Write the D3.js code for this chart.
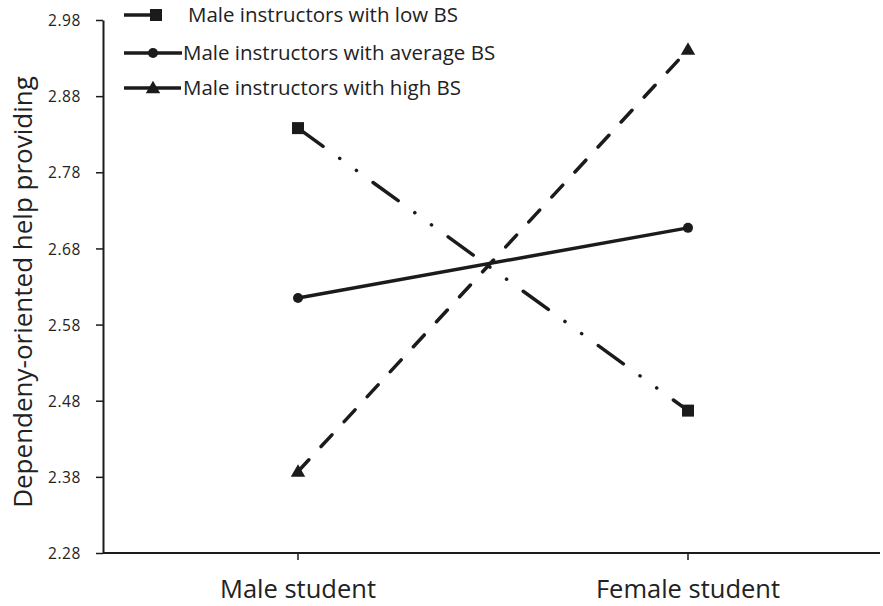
<!DOCTYPE html>
<html>
<head>
<meta charset="utf-8">
<script src="https://cdn.jsdelivr.net/npm/d3@7"></script>
<style>
  body { margin: 0; background: #fff; }
  svg { display: block; }
  text { fill: #222; }
</style>
</head>
<body>
<div id="chart"></div>
<script>
// chart data
var groups = ['Male student', 'Female student'];
var seriesNames = ['Male instructors with low BS', 'Male instructors with average BS', 'Male instructors with high BS'];
var lowBS = [2.838, 2.467];
var avgBS = [2.615, 2.707];
var highBS = [2.387, 2.941];
var yTicks = [2.28, 2.38, 2.48, 2.58, 2.68, 2.78, 2.88, 2.98];

var width = 883, height = 606;
var plotLeft = 103, plotRight = 880, plotTop = 20, plotBottom = 553;

var svg = d3.select('#chart').append('svg')
    .attr('width', width)
    .attr('height', height);

// category positions aren't symmetric in the plot area
var x = d3.scalePoint().domain(groups).range([298, 688]);
var y = d3.scaleLinear().domain([2.28, 2.98]).range([plotBottom, plotTop]);

var ink = '#1b1b1b';
var styles = [
    { dash: '31,20.5,0.1,20.5,0.1,20.5', marker: 'square' },
    { dash: null, marker: 'circle' },
    { dash: '16,18', marker: 'triangle' }
];
var seriesData = [lowBS, avgBS, highBS];

// axes
var yAxis = svg.append('g')
    .attr('transform', `translate(${plotLeft},0)`)
    .call(d3.axisLeft(y).tickValues(yTicks).tickFormat(d3.format('.2f')).tickSize(7).tickSizeOuter(0));
yAxis.select('.domain').attr('stroke', ink).attr('stroke-width', 2);
yAxis.selectAll('.tick line').attr('stroke', ink).attr('stroke-width', 1.5);
yAxis.selectAll('.tick text')
    .attr('x', -22)
    .attr('dy', '0.36em')
    .style('font-family', '"Open Sans", sans-serif')
    .style('font-size', '15.5px')
    .style('letter-spacing', '0.6px')
    .style('fill', '#222');

var xAxis = svg.append('g');
xAxis.append('line')
    .attr('x1', plotLeft).attr('x2', plotRight)
    .attr('y1', plotBottom).attr('y2', plotBottom)
    .attr('stroke', ink).attr('stroke-width', 2);
groups.forEach(g => {
    xAxis.append('line')
        .attr('x1', x(g)).attr('x2', x(g))
        .attr('y1', plotBottom).attr('y2', plotBottom + 7)
        .attr('stroke', ink).attr('stroke-width', 1.5);
    xAxis.append('text')
        .attr('x', x(g)).attr('y', 598)
        .attr('text-anchor', 'middle')
        .style('font-family', '"Open Sans", sans-serif')
        .style('font-size', '25.5px')
        .text(g);
});

svg.append('text')
    .attr('transform', 'translate(32,292) rotate(-90)')
    .attr('text-anchor', 'middle')
    .style('font-family', '"Open Sans", sans-serif')
    .style('font-size', '26px')
    .text('Dependeny-oriented help providing');

function drawMarker(sel, type, cx, cy) {
    if (type == 'square') {
        sel.append('rect').attr('x', cx - 6).attr('y', cy - 6)
            .attr('width', 12).attr('height', 12).attr('fill', ink);
    } else if (type == 'circle') {
        sel.append('circle').attr('cx', cx).attr('cy', cy).attr('r', 5).attr('fill', ink);
    } else {
        sel.append('path')
            .attr('d', d3.symbol(d3.symbolTriangle, 90)())
            .attr('transform', `translate(${cx},${cy + 1})`)
            .attr('fill', ink);
    }
}

// lines
var line = d3.line().x((d, i) => x(groups[i])).y(d => y(d));
var plot = svg.append('g');
seriesData.forEach((vals, k) => {
    plot.append('path')
        .datum(vals)
        .attr('d', line)
        .attr('fill', 'none')
        .attr('stroke', ink)
        .attr('stroke-width', 3.5)
        .attr('stroke-linecap', styles[k].dash ? 'round' : 'butt')
        .attr('stroke-dasharray', styles[k].dash);
    vals.forEach((v, i) => drawMarker(plot, styles[k].marker, x(groups[i]), y(v)));
});

// legend
var legend = svg.append('g');
var rows = [15, 53, 88];
var lineEnds = [160, 182, 181];
var textX = [188, 183, 183];
seriesNames.forEach((name, k) => {
    legend.append('line')
        .attr('x1', 124).attr('x2', lineEnds[k])
        .attr('y1', rows[k]).attr('y2', rows[k])
        .attr('stroke', ink).attr('stroke-width', 3.5);
    drawMarker(legend, styles[k].marker, k == 0 ? 156 : 153, rows[k]);
    legend.append('text')
        .attr('x', textX[k]).attr('y', rows[k] + 7)
        .style('font-family', '"Open Sans", sans-serif')
        .style('font-size', '20.5px')
        .text(name);
});
</script>
</body>
</html>
